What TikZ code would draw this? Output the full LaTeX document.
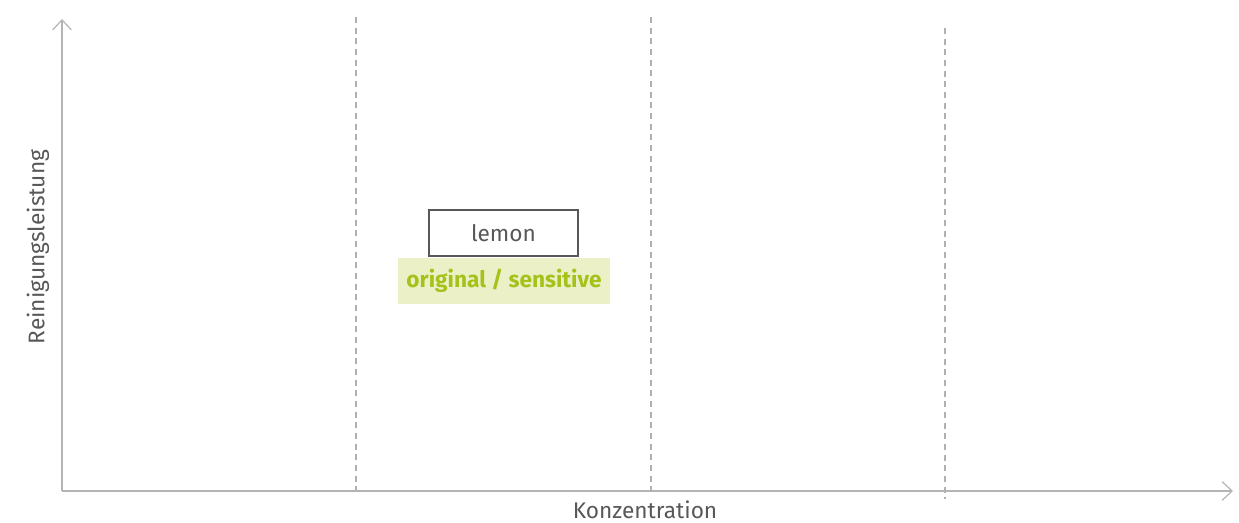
\documentclass[tikz,border=0pt]{standalone}
\usepackage{fontspec}
\setmainfont{Fira Sans}
\usetikzlibrary{arrows.meta}
\definecolor{axisgray}{HTML}{B4B4B4}
\definecolor{dashgray}{HTML}{B0B0B0}
\definecolor{txtgray}{HTML}{585858}
\definecolor{limegreen}{HTML}{A5C21A}
\definecolor{limebg}{HTML}{EBF0C6}
\begin{document}
\begin{tikzpicture}[x=0.75pt,y=-0.75pt,
  axis/.style={draw=axisgray,line width=1.1pt,-{Straight Barb[length=7.5pt,width=14pt,line width=0.9pt]}},
  divider/.style={draw=dashgray,line width=0.8pt,dash pattern=on 4.5pt off 3.5pt},
  label/.style={text=txtgray,font=\fontsize{17}{20}\selectfont,inner sep=0pt},
  product/.style={draw=txtgray,line width=0.8pt,fill=white,minimum width=111.75pt,minimum height=34.5pt,text=txtgray,font=\fontsize{17}{20}\selectfont,inner sep=0pt},
  variant/.style={fill=limebg,text=limegreen,minimum width=159pt,minimum height=34.5pt,font=\fontsize{17}{20}\selectfont\bfseries,inner sep=0pt}]
\useasboundingbox (0,0) rectangle (1239,523);
\coordinate (O) at (62,491);
\coordinate (ytop) at (62,19);
\coordinate (xend) at (1233,491);
\coordinate (d1t) at (356,17);
\coordinate (d1b) at (356,494);
\coordinate (d2t) at (651,17);
\coordinate (d2b) at (651,495);
\coordinate (d3t) at (945,28);
\coordinate (d3b) at (945,499);
\draw[divider] (d1t) -- (d1b);
\draw[divider] (d2t) -- (d2b);
\draw[divider] (d3t) -- (d3b);
\draw[axis] (O) -- (ytop);
\draw[axis] (O) -- (xend);
\node[label] (xl) at (645,510) {Konzentration};
\node[label,rotate=90] (yl) at (38,247) {Reinigungsleistung};
\node[product] (lemon) at (503.5,233) {lemon};
\node[variant] (var) at (504,281) {original / sensitive};
\end{tikzpicture}
\end{document}
